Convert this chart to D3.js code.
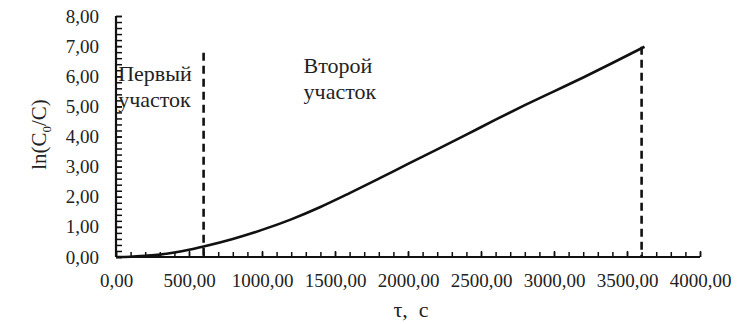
<!DOCTYPE html>
<html><head><meta charset="utf-8">
<script src="https://cdn.jsdelivr.net/npm/d3@7"></script>
<style>body{margin:0;background:#fff}svg{display:block}svg text{font-family:"Times New Roman","Liberation Serif",Tinos,"DejaVu Serif",serif !important}</style>
</head><body><svg id="c" width="742" height="324"></svg>
<script>
const timeValues = [0, 100, 200, 300, 400, 500, 600, 800, 1000, 1200, 1400, 1600, 1800, 2000, 2200, 2400, 2600, 2800, 3000, 3200, 3400, 3620];
const lnValues =   [0, 0.01, 0.04, 0.08, 0.15, 0.24, 0.35, 0.60, 0.90, 1.25, 1.66, 2.12, 2.60, 3.09, 3.57, 4.06, 4.56, 5.04, 5.50, 5.96, 6.44, 6.98];
const xTicks = [0, 500, 1000, 1500, 2000, 2500, 3000, 3500, 4000];
const yTicks = [0, 1, 2, 3, 4, 5, 6, 7, 8];
const boundaries = [600, 3600];
const boundaryTops = [6.78, 6.98];
const sectionLabels = [["Первый", "участок"], ["Второй", "участок"]];
const sectionLabelX = [15, 1285];
const xTitle = "τ,  с";

const svg = d3.select("#c");
const x = d3.scaleLinear().domain([0, 4000]).range([116, 700]);
const y = d3.scaleLinear().domain([0, 8]).range([257, 16]);
const loc = d3.formatLocale({decimal: ",", thousands: "", grouping: [3], currency: ["", ""]});
const fmt = loc.format(".2f");

// minor ticks
svg.append("g").attr("transform", `translate(0,${y(0)})`)
  .call(d3.axisBottom(x).tickValues(d3.range(0, 4001, 100)).tickSize(-5).tickFormat(""))
  .call(g => g.select(".domain").remove())
  .call(g => g.selectAll("line").attr("stroke", "#111").attr("stroke-width", 1.5));
svg.append("g").attr("transform", `translate(${x(0)},0)`)
  .call(d3.axisLeft(y).tickValues(d3.range(0, 8.01, 0.2)).tickSize(-6).tickFormat(""))
  .call(g => g.select(".domain").remove())
  .call(g => g.selectAll("line").attr("stroke", "#111").attr("stroke-width", 1.5));

// major axes
svg.append("g").attr("transform", `translate(0,${y(0)})`)
  .call(d3.axisBottom(x).tickValues(xTicks).tickSize(-6).tickPadding(17).tickFormat(fmt))
  .attr("font-size", 19)
  .call(g => g.select(".domain").attr("stroke", "#111").attr("stroke-width", 2.2).attr("d", `M${x(0)},0H${x(4000)}`))
  .call(g => g.selectAll("line").attr("stroke", "#111").attr("stroke-width", 1.5))
  .call(g => g.selectAll("text").attr("fill", "#222"));
svg.append("g").attr("transform", `translate(${x(0)},0)`)
  .call(d3.axisLeft(y).tickValues(yTicks).tickSize(-6).tickPadding(17).tickFormat(fmt))
  .attr("font-size", 19)
  .call(g => g.select(".domain").attr("stroke", "#111").attr("stroke-width", 2.2).attr("d", `M0,${y(0)}V${y(8)}`))
  .call(g => g.selectAll("line").attr("stroke", "#111").attr("stroke-width", 1.5))
  .call(g => g.selectAll("text").attr("fill", "#222"));

// dashed boundaries
svg.selectAll(".bd").data(boundaries).join("line")
  .attr("x1", d => x(d)).attr("x2", d => x(d))
  .attr("y1", (d, i) => y(boundaryTops[i])).attr("y2", y(0))
  .attr("stroke", "#111").attr("stroke-width", 2.6).attr("stroke-dasharray", "8,5");

// curve
const line = d3.line().x((d, i) => x(timeValues[i])).y(d => y(d)).curve(d3.curveMonotoneX);
svg.append("path").datum(lnValues).attr("d", line)
  .attr("fill", "none").attr("stroke", "#111").attr("stroke-width", 2.6);

// section labels
sectionLabels.forEach((lines, i) => {
  const t = svg.append("text").attr("font-size", 22).attr("fill", "#222");
  lines.forEach((s, j) => t.append("tspan").attr("x", x(sectionLabelX[i]))
    .attr("y", (i === 0 ? 81 : 73) + j * 26).text(s));
});

// axis titles
svg.append("text").attr("x", (x(0) + x(4000)) / 2 + 3).attr("y", 317).attr("fill", "#222")
  .attr("text-anchor", "middle").attr("font-size", 22).style("white-space", "pre").text(xTitle);
const yt = svg.append("text").attr("transform", `translate(46,${y(4) - 2}) rotate(-90)`)
  .attr("text-anchor", "middle").attr("font-size", 21).attr("fill", "#222");
yt.append("tspan").text("ln(C");
yt.append("tspan").attr("font-size", 13).attr("dy", 5).text("0");
yt.append("tspan").attr("dy", -5).text("/C)");
</script></body></html>
